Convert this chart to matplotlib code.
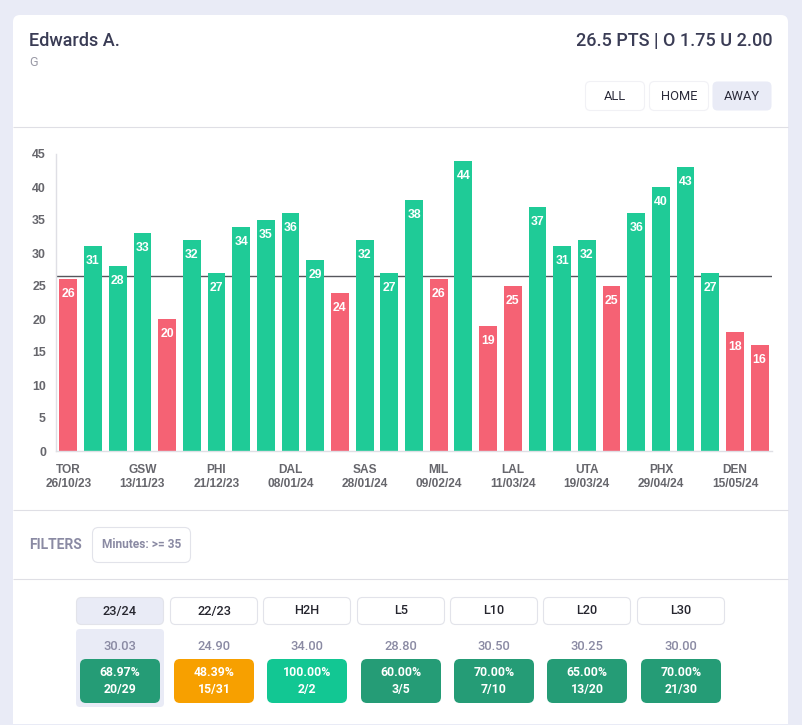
import matplotlib
matplotlib.use("Agg")
import matplotlib.pyplot as plt
from matplotlib.patches import FancyBboxPatch, Rectangle

# data
points = [26, 31, 28, 33, 20, 32, 27, 34, 35, 36, 29, 24, 32, 27, 38, 26, 44, 19, 25, 37,
          31, 32, 25, 36, 40, 43, 27, 18, 16]
line_value = 26.5
y_ticks = [0, 5, 10, 15, 20, 25, 30, 35, 40, 45]
tick_teams = ["TOR", "GSW", "PHI", "DAL", "SAS", "MIL", "LAL", "UTA", "PHX", "DEN"]
tick_dates = ["26/10/23", "13/11/23", "21/12/23", "08/01/24", "28/01/24",
              "09/02/24", "11/03/24", "19/03/24", "29/04/24", "15/05/24"]
tab_names = ["23/24", "22/23", "H2H", "L5", "L10", "L20", "L30"]
tab_avgs = ["30.03", "24.90", "34.00", "28.80", "30.50", "30.25", "30.00"]
tab_pcts = ["68.97%", "48.39%", "100.00%", "60.00%", "70.00%", "65.00%", "70.00%"]
tab_counts = ["20/29", "15/31", "2/2", "3/5", "7/10", "13/20", "21/30"]

GREEN = "#1fcb97"
RED = "#f56274"
BG = "#e9ebf6"
INK = "#3a3c55"
MUTED = "#8a8aa3"
BORDER = "#e2e3ea"

plt.rcParams["font.family"] = ["Roboto", "DejaVu Sans"]

fig = plt.figure(figsize=(8.02, 7.25), dpi=100, facecolor=BG)

# page layer, in pixels
page = fig.add_axes([0, 0, 1, 1])
page.set_xlim(0, 802)
page.set_ylim(725, 0)
page.axis("off")


def box(x0, y0, x1, y1, face="white", edge="none", r=5, lw=0.8):
    page.add_patch(FancyBboxPatch((x0 + r, y0 + r), x1 - x0 - 2 * r, y1 - y0 - 2 * r,
                                  boxstyle=f"round,pad={r},rounding_size={r}",
                                  facecolor=face, edgecolor=edge, linewidth=lw))


def rule(y):
    page.plot([13, 788], [y, y], color="#dfdfe5", lw=0.8, solid_capstyle="butt")


# card
box(13, 15, 788, 740, r=7)
rule(126.7)
rule(509.7)
rule(578.7)
page.add_patch(Rectangle((13, 723.5), 775, 2, facecolor=BG, edgecolor="none"))

# header
page.text(29, 41, "Edwards A.", fontsize=13.0, color=INK, va="center", fontweight="medium")
page.text(29, 62, "G", fontsize=9, color="#9a9aa6", va="center")
page.text(772, 41, "26.5 PTS | O 1.75 U 2.00", fontsize=13.0, color=INK, va="center",
          ha="right", fontweight="medium")

# home / away buttons
for label, x0, x1, active in [("ALL", 585, 645, False), ("HOME", 649, 709, False),
                              ("AWAY", 712, 772, True)]:
    box(x0 + 0.5, 81.5, x1 - 0.5, 110.5, face=BG if active else "white",
        edge="none" if active else "#f1f1f5", r=5)
    page.text((x0 + x1) / 2, 96, label, fontsize=9.3, color="#2b2b3a", ha="center", va="center")

# filters
page.text(29, 545, "FILTERS", fontsize=10, color=MUTED, va="center", fontweight="bold")
box(92.5, 527.5, 190.5, 562.5, edge=BORDER, r=6)
page.text(141.5, 545, "Minutes: >= 35", fontsize=8.6, color=MUTED, ha="center", va="center",
          fontweight="bold")

# season tabs
tab_lefts = [76, 170, 263, 357, 450, 543, 637]
box(76, 629, 164, 707, face=BG, r=4)
for i, name in enumerate(tab_names):
    x0 = tab_lefts[i]
    cx = x0 + 44
    box(x0 + 0.5, 597.5, x0 + 87.5, 624.5, face=BG if i == 0 else "white", edge=BORDER, r=5)
    page.text(cx, 611, name, fontsize=9.2, color="#26262f", ha="center", va="center",
              fontweight="medium")
    page.text(cx, 646, tab_avgs[i], fontsize=9.3, color=MUTED, ha="center", va="center",
              fontweight="medium")
    pct = float(tab_pcts[i].rstrip("%"))
    face = "#f7a000" if pct < 50 else ("#12c793" if pct == 100 else "#259c76")
    box(cx - 40, 659, cx + 40, 703, face=face, r=6)
    page.text(cx, 672, tab_pcts[i], fontsize=8.8, color="white", ha="center", va="center",
              fontweight="bold")
    page.text(cx, 690, tab_counts[i], fontsize=8.8, color="white", ha="center", va="center",
              fontweight="bold")

# chart
ax = fig.add_axes([56 / 802, (725 - 451) / 725, 716 / 802, 297 / 725])
ax.patch.set_alpha(0)
xs = list(range(len(points)))
colors = [GREEN if p > line_value else RED for p in points]
ax.axhline(line_value, color="#55565c", lw=1.0, zorder=1)
ax.bar(xs, points, width=0.72, color=colors, zorder=2)
for x, p in zip(xs, points):
    ax.annotate(str(p), (x, p), xytext=(0, -15), textcoords="offset pixels", ha="center",
                va="center", color="white", fontsize=8.8, fontweight="bold",
                family="Liberation Sans", zorder=3)

ax.set_xlim(-0.5, len(points) - 0.5)
ax.set_ylim(0, 45)
ax.set_yticks(y_ticks)
ax.set_xticks(xs[::3], [f"{t}\n{d}" for t, d in zip(tick_teams, tick_dates)])
ax.tick_params(axis="both", length=0, labelcolor="#66666c", labelsize=8.9)
ax.tick_params(axis="y", pad=7.2)
ax.tick_params(axis="x", pad=9.7)
for lab in ax.get_yticklabels():
    lab.set_family("Liberation Sans")
    lab.set_fontweight("bold")
for lab in ax.get_xticklabels():
    lab.set_family("Liberation Sans")
    lab.set_linespacing(1.15)
    lab.set_fontweight("bold")
    lab.set_fontsize(8.6)
for side in ("top", "right"):
    ax.spines[side].set_visible(False)
for side in ("left", "bottom"):
    ax.spines[side].set_color("#dfdfe5")
    ax.spines[side].set_linewidth(1.0)

fig.savefig("out.png", dpi=100, facecolor=BG)
